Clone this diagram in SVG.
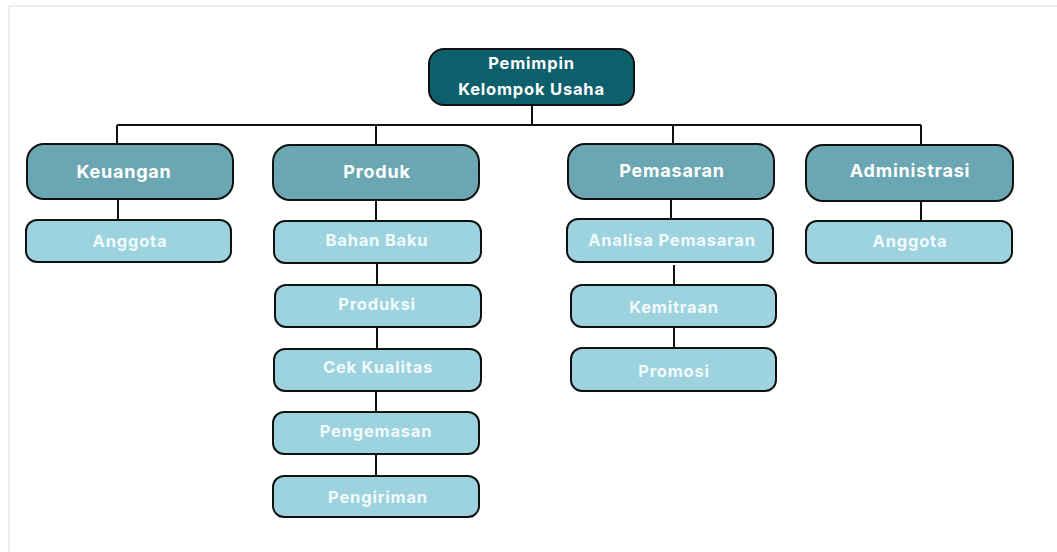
<svg xmlns="http://www.w3.org/2000/svg" width="1057" height="552" viewBox="0 0 1057 552">
<style>
.frame{stroke:#ececec;stroke-width:2;fill:none}
.top rect{fill:#0d5f6c;stroke:#111;stroke-width:2}
.dept rect{fill:#6aa7b2;stroke:#111;stroke-width:2}
.sub rect{fill:#9cd3de;stroke:#111;stroke-width:2}
text{font-family:Inter,"Noto Sans",sans-serif;font-weight:700;fill:#fff;text-anchor:middle;letter-spacing:0.8px}
.top text{font-size:16.5px}
.dept text{font-size:18px}
.sub text{font-size:16.5px;fill:#f2fafb}
.conn path{stroke:#111;stroke-width:2;fill:none}
</style>
<rect width="1057" height="552" fill="#fff"/>
<path class="frame" d="M9 553V6H1058"/>
<g class="conn">
<path d="M532 105V125M117 125H921M117 125V144M376 125V145M673 125V144M921 125V145"/>
<path d="M118 199V220M376 200V221M377 263V285M377 327V349M376 391V412M376 454V476"/>
<path d="M671 199V219M674 265V285M674 327V348M921 201V221"/>
</g>
<g id="pemimpin" class="top"><rect x="429" y="49" width="205" height="56" rx="15"/><text x="531.5" y="69">Pemimpin</text><text x="531.5" y="95">Kelompok Usaha</text></g>
<g id="keuangan" class="dept"><rect x="27" y="144" width="206" height="55" rx="17"/><text x="124" y="178">Keuangan</text></g>
<g id="produk" class="dept"><rect x="273" y="145" width="206" height="55" rx="17"/><text x="377" y="178">Produk</text></g>
<g id="pemasaran" class="dept"><rect x="568" y="144" width="206" height="55" rx="17"/><text x="672" y="177">Pemasaran</text></g>
<g id="administrasi" class="dept"><rect x="806" y="145" width="207" height="56" rx="17"/><text x="910" y="177">Administrasi</text></g>
<g id="anggota1" class="sub"><rect x="26" y="220" width="205" height="42" rx="11"/><text x="130" y="247">Anggota</text></g>
<g id="bahan-baku" class="sub"><rect x="274" y="221" width="207" height="42" rx="11"/><text x="377" y="246">Bahan Baku</text></g>
<g id="produksi" class="sub"><rect x="275" y="285" width="206" height="42" rx="11"/><text x="377" y="310">Produksi</text></g>
<g id="cek-kualitas" class="sub"><rect x="274" y="349" width="207" height="42" rx="11"/><text x="378" y="373">Cek Kualitas</text></g>
<g id="pengemasan" class="sub"><rect x="273" y="412" width="206" height="42" rx="11"/><text x="376" y="437">Pengemasan</text></g>
<g id="pengiriman" class="sub"><rect x="273" y="476" width="206" height="41" rx="11"/><text x="378" y="503">Pengiriman</text></g>
<g id="analisa-pemasaran" class="sub"><rect x="567" y="219" width="206" height="43" rx="11"/><text x="672" y="246">Analisa Pemasaran</text></g>
<g id="kemitraan" class="sub"><rect x="571" y="285" width="205" height="42" rx="11"/><text x="674" y="313">Kemitraan</text></g>
<g id="promosi" class="sub"><rect x="571" y="348" width="205" height="43" rx="11"/><text x="674" y="377">Promosi</text></g>
<g id="anggota2" class="sub"><rect x="806" y="221" width="206" height="42" rx="11"/><text x="910" y="247">Anggota</text></g>
</svg>
